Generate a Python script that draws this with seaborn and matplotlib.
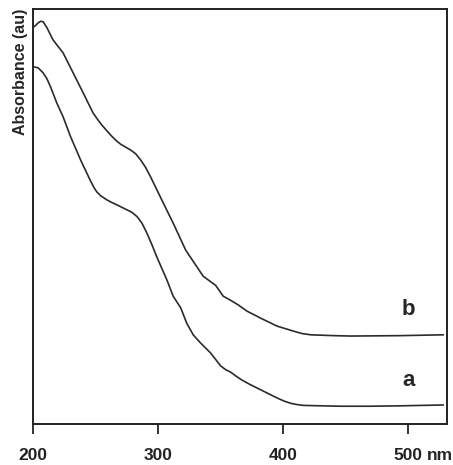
import numpy as np
import pandas as pd
import seaborn as sns
import matplotlib.pyplot as plt

# spectrum a (lower curve), wavelength in nm, absorbance in arbitrary units
wl_a = [201, 204, 208, 211, 214, 219, 224, 230, 238, 246, 249, 251, 254, 256, 259, 262,
        267, 271, 275, 279, 283, 287, 291, 295, 299, 307, 312, 318, 323, 328, 334, 342,
        350, 354, 358, 362, 367, 373, 379, 387, 395, 401, 406, 411, 416, 430, 446, 470,
        494, 528]
abs_a = [0.860, 0.858, 0.846, 0.832, 0.812, 0.773, 0.740, 0.692, 0.636, 0.585, 0.568,
         0.559, 0.550, 0.546, 0.540, 0.535, 0.528, 0.522, 0.516, 0.510, 0.500, 0.484,
         0.460, 0.432, 0.402, 0.347, 0.308, 0.280, 0.242, 0.215, 0.195, 0.171, 0.140,
         0.131, 0.125, 0.116, 0.106, 0.096, 0.087, 0.075, 0.063, 0.055, 0.050, 0.047,
         0.045, 0.044, 0.043, 0.043, 0.044, 0.046]

# spectrum b (upper curve)
wl_b = [201, 204, 206, 208, 211, 216, 224, 232, 240, 248, 252, 255, 262, 266, 270, 274,
        278, 282, 286, 290, 294, 304, 312, 322, 328, 336, 341, 346, 352, 358, 364, 371,
        382, 395, 408, 415, 422, 440, 454, 494, 528]
abs_b = [0.957, 0.966, 0.970, 0.969, 0.955, 0.925, 0.894, 0.846, 0.798, 0.749, 0.732,
         0.720, 0.696, 0.684, 0.674, 0.667, 0.660, 0.651, 0.636, 0.618, 0.595, 0.533,
         0.484, 0.419, 0.392, 0.356, 0.345, 0.334, 0.308, 0.298, 0.287, 0.272, 0.255,
         0.236, 0.224, 0.218, 0.215, 0.213, 0.212, 0.213, 0.215]

xticks = [200, 300, 400, 500]
xticklabels = ["200", "300", "400", "500"]

df = pd.concat([
    pd.DataFrame({"nm": wl_a, "A": abs_a, "s": "a"}),
    pd.DataFrame({"nm": wl_b, "A": abs_b, "s": "b"}),
])

sns.set_style("white")
plt.rcParams["font.family"] = ["Liberation Sans", "DejaVu Sans"]
plt.rcParams["font.weight"] = "bold"
plt.rcParams["lines.solid_joinstyle"] = "round"
plt.rcParams["lines.solid_capstyle"] = "round"

fig = plt.figure(figsize=(4.53, 4.65), dpi=100)
ax = fig.add_axes([0.073, 0.088, 0.914, 0.893])

sns.lineplot(data=df, x="nm", y="A", units="s", estimator=None, sort=False,
             color="#2b2b2b", linewidth=1.2, ax=ax)

ax.set_xlim(200, 531)
ax.set_ylim(0, 1.0)
ax.set_xticks(xticks)
ax.set_xticklabels(xticklabels, fontsize=12.5, fontweight="bold")
ax.set_yticks([])
ax.tick_params(axis="x", direction="out", length=7, width=1.3, pad=10,
               bottom=True, colors="#222222")
for sp in ax.spines.values():
    sp.set_linewidth(1.4)
    sp.set_color("#222222")

ax.set_xlabel("")
ax.set_ylabel("Absorbance (au)", fontsize=11.5, fontweight="bold", loc="top", labelpad=4)

ax.text(500, 0.275, "b", fontsize=16, fontweight="bold", ha="center", va="center")
ax.text(500, 0.106, "a", fontsize=16, fontweight="bold", ha="center", va="center")
ax.annotate("nm", xy=(500, 0), xycoords="data", xytext=(13.5, -22.5),
            textcoords="offset points", fontsize=12.5, fontweight="bold",
            ha="left", va="center")

fig.savefig("out.png", dpi=100)
